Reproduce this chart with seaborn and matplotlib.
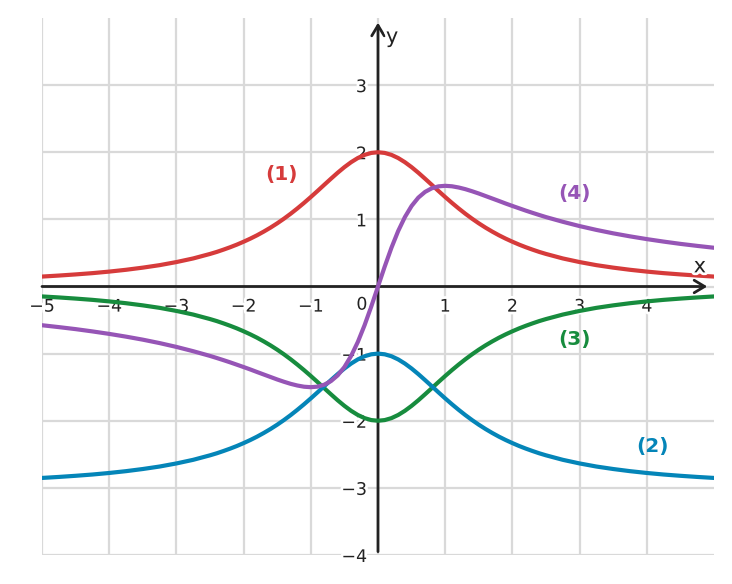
import numpy as np
import pandas as pd
import seaborn as sns
import matplotlib.pyplot as plt
import matplotlib.patheffects as pe

# sample positions along x: coarse at the ends, fine in the middle
x_vals = np.round(np.r_[np.arange(-5, -2.6, 0.25), np.arange(-2.5, 2.55, 0.1),
                        np.arange(2.75, 5.1, 0.25)], 2)

curve1 = [0.148, 0.163, 0.180, 0.199, 0.222, 0.249, 0.281, 0.318, 0.364, 0.418,
          0.485, 0.515, 0.549, 0.585, 0.624, 0.667, 0.713, 0.763, 0.818, 0.877,
          0.941, 1.010, 1.084, 1.163, 1.246, 1.333, 1.423, 1.515, 1.606, 1.695,
          1.778, 1.852, 1.914, 1.961, 1.990, 2.000, 1.990, 1.961, 1.914, 1.852,
          1.778, 1.695, 1.606, 1.515, 1.423, 1.333, 1.246, 1.163, 1.084, 1.010,
          0.941, 0.877, 0.818, 0.763, 0.713, 0.667, 0.624, 0.585, 0.549, 0.515,
          0.485, 0.418, 0.364, 0.318, 0.281, 0.249, 0.222, 0.199, 0.180, 0.163, 0.148]

curve2 = [-2.852, -2.837, -2.820, -2.801, -2.778, -2.751, -2.719, -2.682, -2.636, -2.582,
          -2.515, -2.485, -2.451, -2.415, -2.376, -2.333, -2.287, -2.237, -2.182, -2.123,
          -2.059, -1.990, -1.916, -1.837, -1.754, -1.667, -1.577, -1.485, -1.394, -1.305,
          -1.222, -1.148, -1.086, -1.039, -1.010, -1.000, -1.010, -1.039, -1.086, -1.148,
          -1.222, -1.305, -1.394, -1.485, -1.577, -1.667, -1.754, -1.837, -1.916, -1.990,
          -2.059, -2.123, -2.182, -2.237, -2.287, -2.333, -2.376, -2.415, -2.451, -2.485,
          -2.515, -2.582, -2.636, -2.682, -2.719, -2.751, -2.778, -2.801, -2.820, -2.837, -2.852]

curve3 = [-0.148, -0.163, -0.180, -0.199, -0.222, -0.249, -0.281, -0.318, -0.364, -0.418,
          -0.485, -0.515, -0.549, -0.585, -0.624, -0.667, -0.713, -0.763, -0.818, -0.877,
          -0.941, -1.010, -1.084, -1.163, -1.246, -1.333, -1.423, -1.515, -1.606, -1.695,
          -1.778, -1.852, -1.914, -1.961, -1.990, -2.000, -1.990, -1.961, -1.914, -1.852,
          -1.778, -1.695, -1.606, -1.515, -1.423, -1.333, -1.246, -1.163, -1.084, -1.010,
          -0.941, -0.877, -0.818, -0.763, -0.713, -0.667, -0.624, -0.585, -0.549, -0.515,
          -0.485, -0.418, -0.364, -0.318, -0.281, -0.249, -0.222, -0.199, -0.180, -0.163, -0.148]

curve4 = [-0.577, -0.605, -0.635, -0.669, -0.706, -0.747, -0.792, -0.843, -0.900, -0.964,
          -1.034, -1.065, -1.097, -1.130, -1.165, -1.200, -1.236, -1.274, -1.311, -1.348,
          -1.385, -1.419, -1.450, -1.475, -1.493, -1.500, -1.492, -1.463, -1.409, -1.324,
          -1.200, -1.034, -0.826, -0.577, -0.297, 0.000, 0.297, 0.577, 0.826, 1.034,
          1.200, 1.324, 1.409, 1.463, 1.492, 1.500, 1.493, 1.475, 1.450, 1.419,
          1.385, 1.348, 1.311, 1.274, 1.236, 1.200, 1.165, 1.130, 1.097, 1.065,
          1.034, 0.964, 0.900, 0.843, 0.792, 0.747, 0.706, 0.669, 0.635, 0.605, 0.577]

curve_names = ["(1)", "(2)", "(3)", "(4)"]
curve_colors = ["#d63b3b", "#0485b8", "#178c3e", "#9655b6"]
label_pos = [(-1.43, 1.67), (4.09, -2.38), (2.92, -0.79), (2.92, 1.38)]

x_ticks = [-5, -4, -3, -2, -1, 0, 1, 2, 3, 4]
y_ticks = [-4, -3, -2, -1, 0, 1, 2, 3]

sns.set_style("white")
plt.rcParams["font.family"] = ["DejaVu Sans"]

ink = "#222222"
halo = [pe.withStroke(linewidth=4, foreground="white")]

fig = plt.figure(figsize=(7.32, 5.84), dpi=100)
ax = fig.add_axes([42 / 732, 29 / 584, 672 / 732, 537 / 584])
ax.set_xlim(-5, 5)
ax.set_ylim(-4, 4)

# grid
for gx in x_ticks:
    ax.axvline(gx, color="#d9d9d9", lw=1.6, zorder=0)
for gy in y_ticks:
    ax.axhline(gy, color="#d9d9d9", lw=1.6, zorder=0)

# axes through origin with arrows
arrow = dict(arrowstyle="->,head_length=0.5,head_width=0.3", mutation_scale=15,
             lw=2, color=ink, shrinkA=0, shrinkB=0)
ax.annotate("", xy=(4.9, 0), xytext=(-5, 0), zorder=1.5, arrowprops=arrow)
ax.annotate("", xy=(0, 3.93), xytext=(0, -3.95), zorder=1.5, arrowprops=arrow)

series = [curve1, curve2, curve3, curve4]
for i in [0, 2, 1, 3]:
    df = pd.DataFrame({"x": x_vals, "y": series[i]})
    sns.lineplot(data=df, x="x", y="y", color=curve_colors[i], lw=3, ax=ax, zorder=2,
                 legend=False)

for name, col, (lx, ly) in zip(curve_names, curve_colors, label_pos):
    ax.text(lx, ly, name, color=col, fontsize=14.5, fontweight="bold",
            ha="center", va="center", zorder=4)

# ticks on the zero lines
ax.spines["left"].set_position("zero")
ax.spines["bottom"].set_position("zero")
for s in ["left", "bottom", "top", "right"]:
    ax.spines[s].set_color("none")


def fmt(t):
    if t == 0:
        return ""
    return f"\u2212{abs(t)}" if t < 0 else str(t)


ax.set_xticks(x_ticks)
ax.set_yticks(y_ticks)
ax.set_xticklabels([fmt(t) for t in x_ticks])
ax.set_yticklabels([fmt(t) for t in y_ticks])
ax.tick_params(direction="inout", length=7, width=1.6, color=ink, labelcolor=ink,
               labelsize=12.5, pad=4.5)
for lab in ax.get_xticklabels() + ax.get_yticklabels():
    lab.set_path_effects(halo)
ax.set_xlabel("")
ax.set_ylabel("")

ax.text(-0.24, -0.27, "0", fontsize=12.5, color=ink, ha="center", va="center",
        path_effects=halo, zorder=4)
ax.text(4.79, 0.30, "x", fontsize=15, color=ink, ha="center", va="center",
        path_effects=halo, zorder=4)
ax.text(0.21, 3.72, "y", fontsize=15, color=ink, ha="center", va="center",
        path_effects=halo, zorder=4)

fig.savefig("out.png", dpi=100)
